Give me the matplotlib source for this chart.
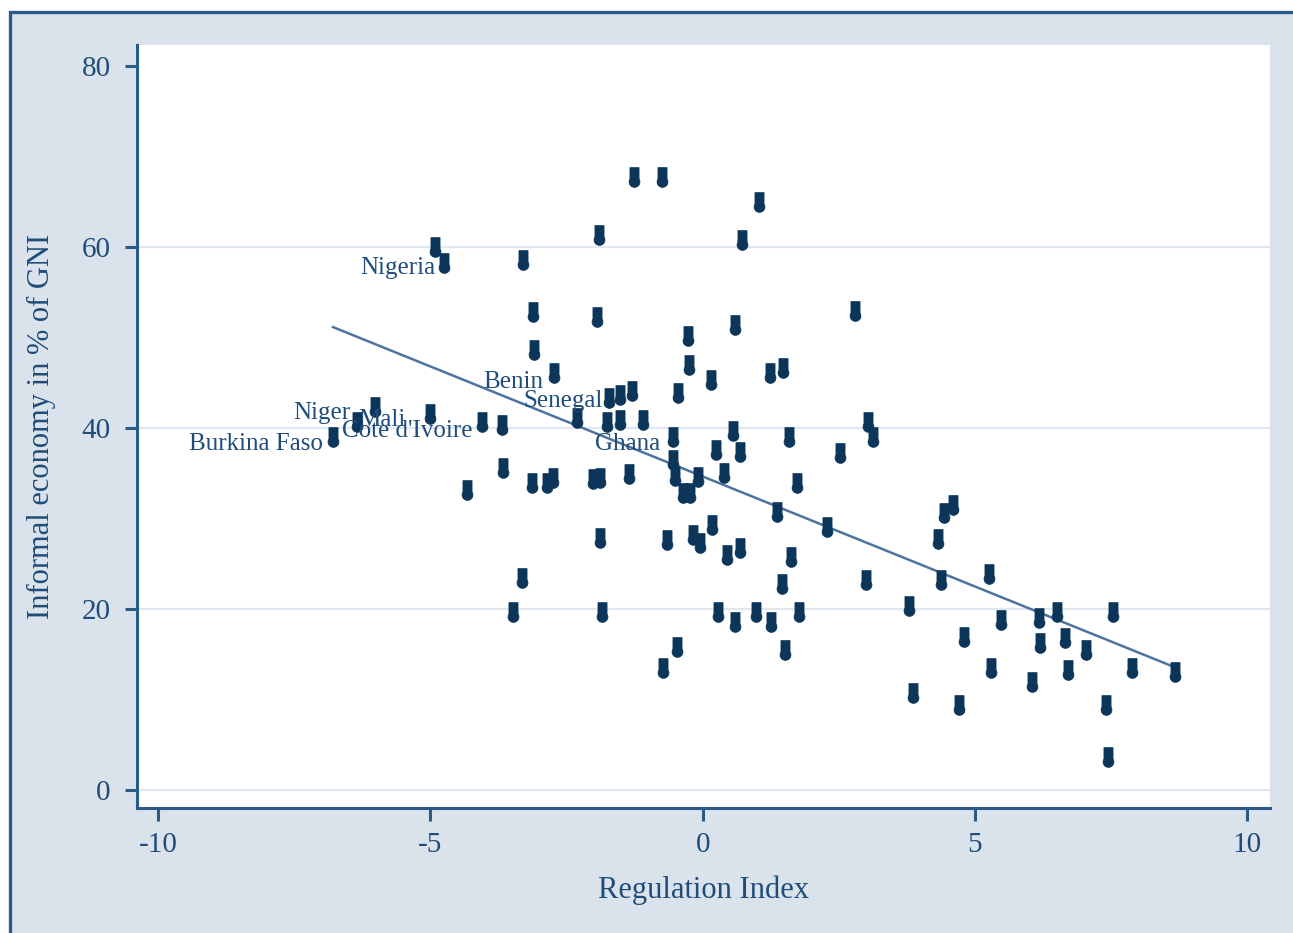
import matplotlib
matplotlib.use("Agg")
import matplotlib.pyplot as plt
import numpy as np
from matplotlib.path import Path
from matplotlib.patches import Rectangle

# regulation index (x) and informal economy share (y)
reg_index = [
    -6.79, -6.35, -6.01, -5.00, -4.91, -4.75, -4.33, -4.05, -3.68, -3.66,
    -3.48, -3.31, -3.30, -3.11, -3.09, -2.73, -3.13, -2.86, -2.75, -2.30,
    -2.01, -1.88, -1.90, -1.94, -1.88, -1.85, -1.72, -1.75, -1.52, -1.52,
    -1.35, -1.29, -1.26, -1.09, -0.74, -0.73, -0.65, -0.54, -0.54, -0.51,
    -0.47, -0.45, -0.36, -0.23, -0.27, -0.25, -0.17, -0.08, -0.05, 0.16,
    0.17, 0.25, 0.28, 0.39, 0.45, 0.56, 0.60, 0.60, 0.69, 0.69,
    0.73, 0.98, 1.04, 1.26, 1.24, 1.48, 1.37, 1.46, 1.52, 1.59,
    1.63, 1.74, 1.77, 2.29, 2.53, 2.80, 3.00, 3.04, 3.13, 3.79,
    3.87, 4.32, 4.38, 4.44, 4.60, 4.71, 4.80, 5.26, 5.30, 5.48,
    6.05, 6.18, 6.20, 6.51, 6.66, 6.71, 7.04, 7.41, 7.45, 7.54,
    7.89, 8.68,
]
informal = [
    39.0, 40.7, 42.3, 41.5, 60.0, 58.2, 33.1, 40.7, 40.3, 35.6,
    19.6, 23.4, 58.6, 52.8, 48.6, 46.1, 33.9, 33.9, 34.5, 41.1,
    34.3, 34.5, 61.3, 52.2, 27.8, 19.6, 43.3, 40.7, 43.6, 40.9,
    34.9, 44.1, 67.7, 40.9, 67.7, 13.5, 27.6, 39.0, 36.5, 34.7,
    15.8, 43.9, 32.8, 32.8, 50.1, 47.0, 28.2, 34.6, 27.3, 45.3,
    29.3, 37.6, 19.6, 35.0, 26.0, 39.6, 51.4, 18.6, 26.7, 37.3,
    60.8, 19.7, 64.9, 18.6, 46.1, 46.6, 30.7, 22.7, 15.5, 39.0,
    25.7, 33.9, 19.6, 29.0, 37.2, 52.9, 23.2, 40.7, 39.0, 20.3,
    10.7, 27.7, 23.2, 30.6, 31.5, 9.4, 16.9, 23.8, 13.5, 18.8,
    11.9, 19.0, 16.2, 19.7, 16.8, 13.3, 15.5, 9.4, 3.6, 19.7,
    13.5, 13.0,
]

# labelled countries: point index, and label offset in pixels (right edge, centre)
country_idx = {
    "Nigeria": 5, "Benin": 15, "Senegal": 26, "Niger": 1, "Mali": 3,
    "Cote d'Ivoire": 7, "Burkina Faso": 0, "Ghana": 37,
}
label_off_px = {
    "Nigeria": (-9, -5), "Benin": (-11, -9), "Senegal": (-6, -3),
    "Niger": (-7, 9), "Mali": (-25, -6), "Cote d'Ivoire": (-10, -9),
    "Burkina Faso": (-10, -7), "Ghana": (-13, -7),
}

y_ticks = [0, 20, 40, 60, 80]
x_ticks = [-10, -5, 0, 5, 10]

BG = "#dae2ec"
EDGE = "#2a5a86"
TXT = "#1f4c7a"
MARK = "#0c355a"
GRID = "#e1e7f0"
FIT = "#4d74a0"

plt.rcParams["font.family"] = ["Liberation Serif", "DejaVu Serif"]
plt.rcParams["axes.unicode_minus"] = False


def _marker_path():
    # stem rectangle on top, round bulb below
    hw, r, cy = 0.46, 0.55, -0.45
    theta0 = np.arccos(hw / r)
    ang = np.linspace(theta0, -np.pi - theta0, 40)
    bulb = np.column_stack([r * np.cos(ang), cy + r * np.sin(ang)])
    verts = np.array([(-hw, 1.0), (hw, 1.0)] + [tuple(v) for v in bulb] + [(-hw, 1.0)])
    return Path(verts, closed=True)


W, H, DPI = 1293, 933, 100
fig = plt.figure(figsize=(W / DPI, H / DPI), dpi=DPI)
fig.patch.set_facecolor("white")
fig.patches.append(Rectangle((10 / W, -0.05), 1.2, 1.05 - 12 / H, transform=fig.transFigure,
                             facecolor=BG, edgecolor=EDGE, linewidth=2.4, zorder=-10))

ax = fig.add_axes([137 / W, (H - 808) / H, (1270 - 137) / W, (808 - 45) / H])
ax.set_zorder(2)
ax.set_facecolor("white")
ax.set_xlim(-10.39, 10.42)
ax.set_ylim(-2.0, 82.3)

for yv in y_ticks[:-1]:
    ax.axhline(yv, color=GRID, lw=1.6, zorder=1)

x = np.array(reg_index)
y = np.array(informal)
slope, icpt = np.polyfit(x, y, 1)
xf = np.array([x.min(), x.max()])
ax.plot(xf, icpt + slope * xf, color=FIT, lw=1.8, zorder=2)

ax.scatter(x, y, marker=_marker_path(), s=200, color=MARK, edgecolors=MARK,
           linewidths=0.6, zorder=3)

px = 72 / DPI
for name, i in country_idx.items():
    dx, dy = label_off_px[name]
    ax.annotate(name, xy=(x[i], y[i]), xytext=(dx * px, dy * px), textcoords="offset points",
                ha="right", va="center", fontsize=18, color=TXT, zorder=4)

for side in ("top", "right"):
    ax.spines[side].set_visible(False)
for side in ("left", "bottom"):
    ax.spines[side].set_color(EDGE)
    ax.spines[side].set_linewidth(2.2)

ax.set_yticks(y_ticks)
ax.set_xticks(x_ticks)
ax.tick_params(axis="both", colors=EDGE, width=2.2, length=9, labelsize=21, labelcolor=TXT)
ax.tick_params(axis="y", pad=10)
ax.tick_params(axis="x", pad=8)

ax.set_xlabel("Regulation Index", fontsize=22, color=TXT, labelpad=13)
ax.set_ylabel("Informal economy in % of GNI", fontsize=22, color=TXT, labelpad=18)

fig.savefig("out.png", dpi=DPI, facecolor="white")
